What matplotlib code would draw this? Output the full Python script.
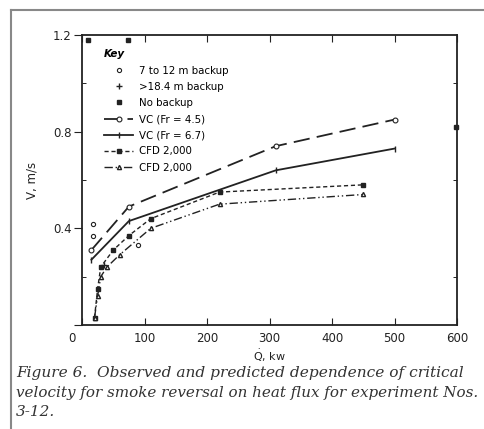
import matplotlib
matplotlib.use("Agg")
import matplotlib.pyplot as plt
from matplotlib.lines import Line2D

# model curves (Q in kW, V in m/s)
vc45_q = [15, 75, 310, 500]
vc45_v = [0.31, 0.49, 0.74, 0.85]
vc67_q = [15, 75, 310, 500]
vc67_v = [0.27, 0.43, 0.64, 0.73]
cfd_a_q = [20, 25, 30, 50, 75, 110, 220, 450]
cfd_a_v = [0.03, 0.15, 0.24, 0.31, 0.37, 0.44, 0.55, 0.58]
cfd_b_q = [20, 25, 30, 40, 60, 110, 220, 450]
cfd_b_v = [0.03, 0.12, 0.20, 0.24, 0.29, 0.40, 0.50, 0.54]

# observations
obs712_q = [18, 18, 90]
obs712_v = [0.42, 0.37, 0.33]
obs184_q = [35]
obs184_v = [0.25]
noback_q = [10, 74, 598]
noback_v = [1.18, 1.18, 0.82]

xticks = [0, 100, 200, 300, 400, 500, 600]
yticks = [0, 0.4, 0.8, 1.2]
caption = ["Figure 6.  Observed and predicted dependence of critical",
           "velocity for smoke reversal on heat flux for experiment Nos.",
           "3-12."]
caption_sizes = [11.1, 10.9, 11.0]

W, H = 485, 429
fig = plt.figure(figsize=(W / 100, H / 100), dpi=100)
ax = fig.add_axes([82 / W, 1 - 325 / H, (457 - 82) / W, (325 - 35) / H])

k = "#222222"
ax.plot(vc45_q, vc45_v, color=k, lw=1.3, dashes=(9, 4), marker="o", ms=3.5,
        mfc="white", mew=0.8, label="VC (Fr = 4.5)")
ax.plot(vc67_q, vc67_v, color=k, lw=1.3, marker="|", ms=4, label="VC (Fr = 6.7)")
ax.plot(cfd_a_q, cfd_a_v, color=k, lw=1.0, dashes=(3, 2), marker="s", ms=2.5,
        label="CFD 2,000")
ax.plot(cfd_b_q, cfd_b_v, color=k, lw=1.0, dashes=(6, 2, 1, 2, 1, 2), marker="^",
        ms=3, mfc="white", label="CFD 2,000")
ax.plot(obs712_q, obs712_v, ls="none", marker="o", ms=3, mfc="white", mec=k,
        mew=0.8, label="7 to 12 m backup")
ax.plot(obs184_q, obs184_v, ls="none", marker="+", ms=4, color=k,
        label=">18.4 m backup")
ax.plot(noback_q, noback_v, ls="none", marker="s", ms=2.5, color=k,
        label="No backup", clip_on=False)

ax.set_xlim(0, 600)
ax.set_ylim(0, 1.2)
ax.set_xticks(xticks)
ax.set_xticklabels([""] + [str(t) for t in xticks[1:]])
ax.set_yticks(yticks)
ax.set_yticklabels([""] + ["0.4", "0.8", "1.2"])
ax.tick_params(axis="x", direction="in", length=5, top=True, labelsize=8.5,
               pad=5, colors=k)
ax.tick_params(axis="y", direction="out", length=6, labelsize=8.5, colors=k,
               pad=1.5)
ax.set_yticks([0.2, 0.6, 1.0], minor=True)
ax.tick_params(axis="y", which="minor", direction="in", length=3, right=True)
for s in ax.spines.values():
    s.set_color(k)
    s.set_linewidth(1.3)
ax.text(-0.027, -0.025, "0", transform=ax.transAxes, ha="center", va="top",
        fontsize=8.5, color=k)
ax.set_ylabel("V, m/s", fontsize=8.5, color=k, labelpad=10)
ax.set_xlabel(r"$\dot{\mathrm{Q}}$, kw", fontsize=8, color=k, labelpad=2)

h, l = ax.get_legend_handles_labels()
order = [4, 5, 6, 0, 1, 2, 3]
leg = ax.legend([h[i] for i in order], [l[i] for i in order], loc="upper left",
                bbox_to_anchor=(0.04, 0.975), frameon=False, fontsize=7.4,
                title="Key", handlelength=2.8, labelspacing=0.6,
                handletextpad=0.6, borderpad=0.2)
leg.get_title().set_fontstyle("italic")
leg.get_title().set_fontweight("bold")
leg.get_title().set_fontsize(7.5)
leg._legend_box.align = "left"

y = 1 - 373 / H
for line, fs in zip(caption, caption_sizes):
    fig.text(16 / W, y, line, fontsize=fs, family="DejaVu Serif",
             style="italic", va="center", color="#333333")
    y -= 19.5 / H

fig.add_artist(Line2D([11 / W, 11 / W], [0, 1 - 10 / H], color="#888888", lw=1.5))
fig.add_artist(Line2D([11 / W, 483 / W], [1 - 10 / H, 1 - 10 / H], color="#888888", lw=1.5))

fig.savefig("out.png", dpi=100)
